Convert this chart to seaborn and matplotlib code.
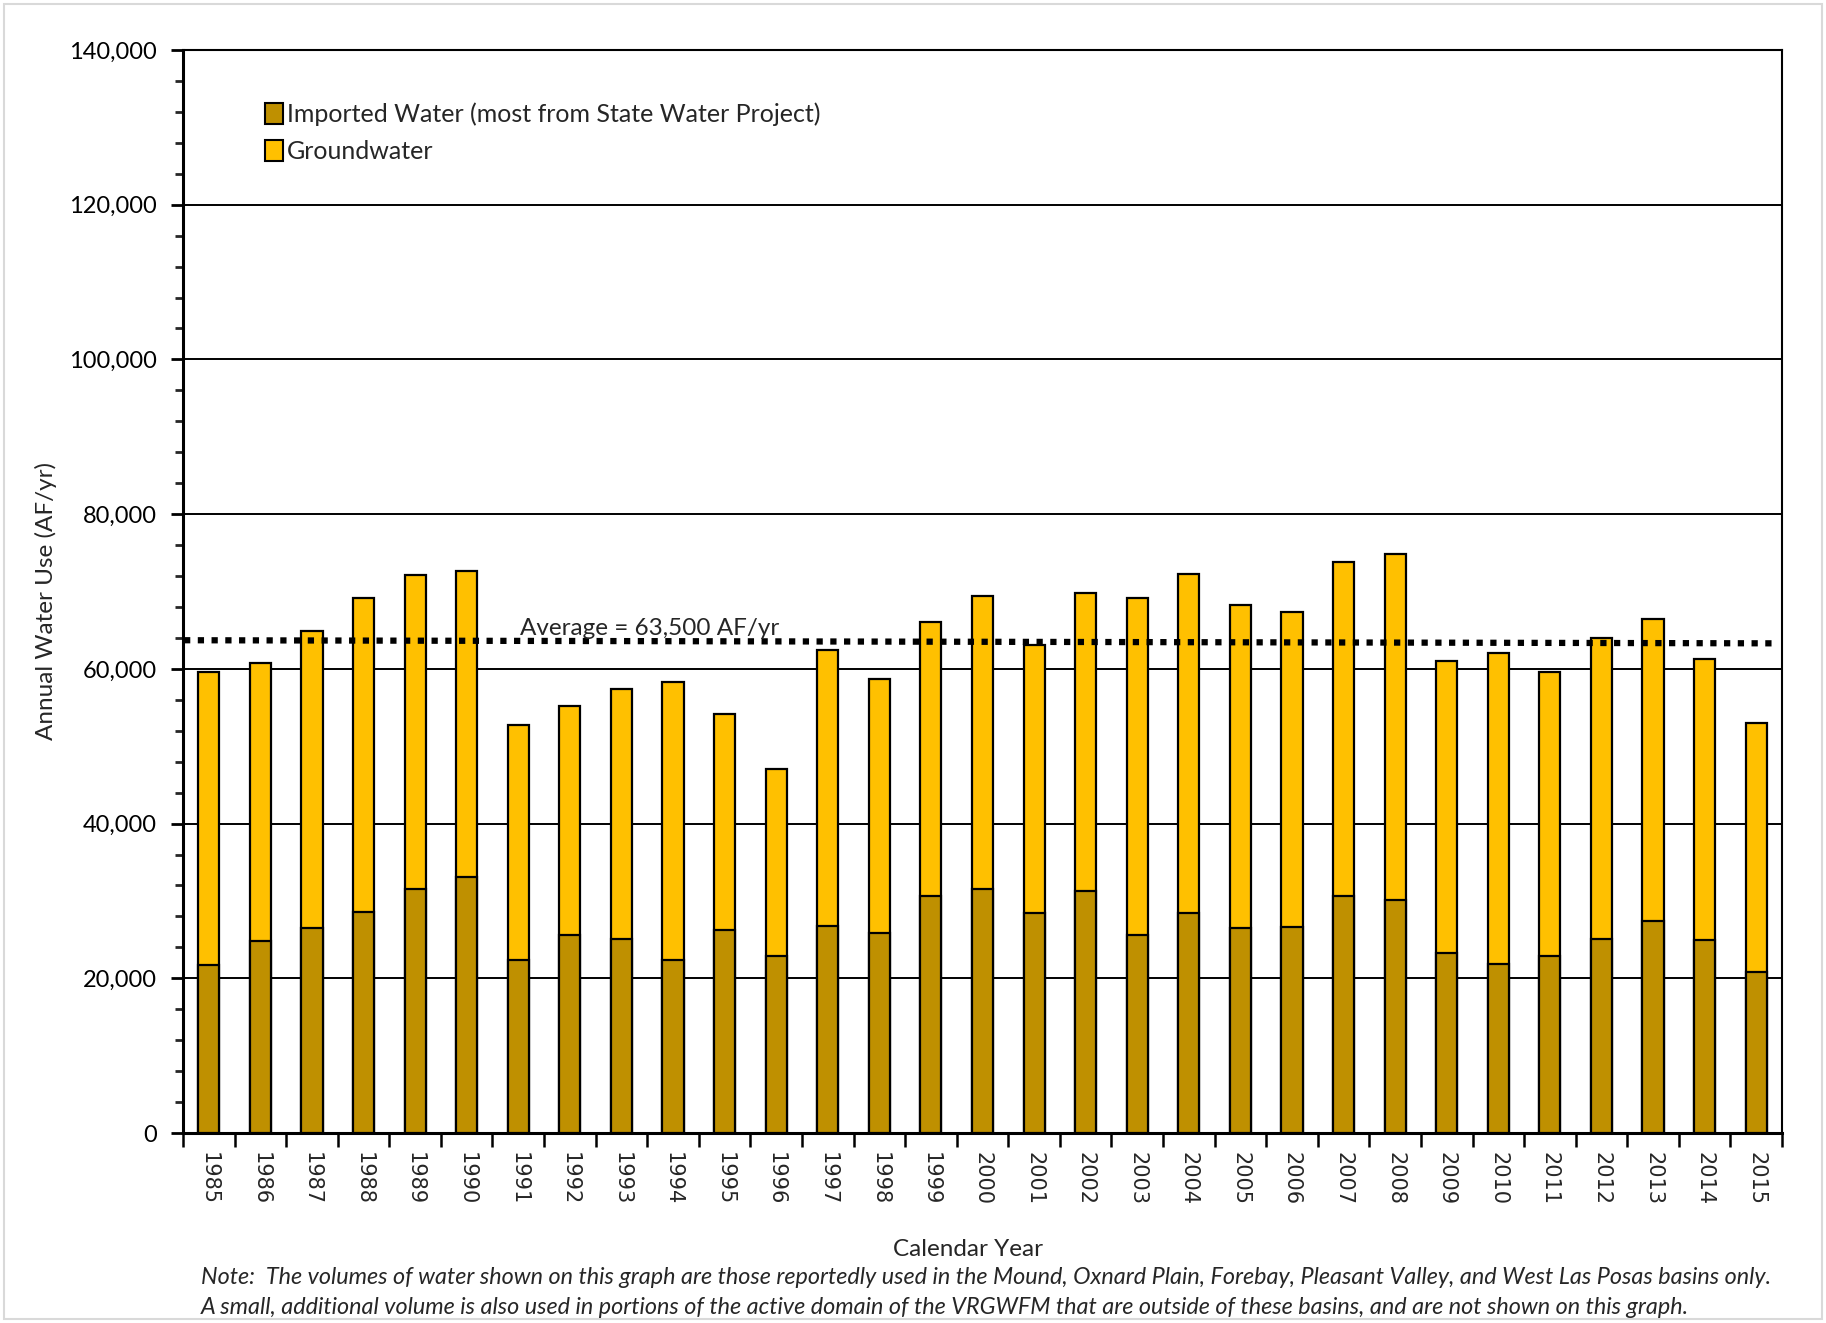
import numpy as np
import pandas as pd
import matplotlib
matplotlib.use("Agg")
import matplotlib.pyplot as plt
from matplotlib.ticker import MultipleLocator, FuncFormatter
from matplotlib.patches import Rectangle, Patch
import seaborn as sns

# Annual water use by source (AF/yr)
years = [str(y) for y in range(1985, 2016)]
total_use = [59600, 60800, 64900, 69200, 72100, 72700, 52700, 55200, 57400, 58300,
             54200, 47100, 62500, 58700, 66100, 69400, 63100, 69800, 69200, 72300,
             68300, 67300, 73800, 74800, 61000, 62000, 59600, 64000, 66400, 61300,
             53000]
imported = [21700, 24800, 26500, 28600, 31500, 33100, 22400, 25600, 25100, 22300,
            26300, 22900, 26800, 25900, 30700, 31500, 28500, 31300, 25600, 28500,
            26500, 26600, 30700, 30100, 23300, 21800, 22900, 25100, 27400, 25000,
            20800]
groundwater = [t - i for t, i in zip(total_use, imported)]
average_line = [63700, 63300]   # dotted average line, start and end of the period
average_label = "Average = 63,500 AF/yr"

df = pd.DataFrame({"year": years, "total": total_use, "imported": imported,
                   "groundwater": groundwater})

sns.set_theme(style="white")
plt.rcParams["font.family"] = ["Lato", "DejaVu Sans"]

W, H = 1826, 1323
fig = plt.figure(figsize=(W / 100, H / 100), dpi=100)
ax = fig.add_axes([183 / W, 1 - 1133 / H, (1782 - 183) / W, (1133 - 50) / H])

c_gw = "#FFC000"
c_imp = "#BF9000"

# groundwater stacked on imported water: full-height bar, then imported part over it
sns.barplot(data=df, x="year", y="total", color=c_gw, saturation=1, width=0.41,
            edgecolor="black", linewidth=1.6, ax=ax, zorder=3)
sns.barplot(data=df, x="year", y="imported", color=c_imp, saturation=1, width=0.41,
            edgecolor="black", linewidth=1.6, ax=ax, zorder=3)

# average line
ax.plot([-0.48, 30.3], average_line, color="black", linestyle=(0, (1, 1.2)),
        linewidth=4.5, zorder=4)
ax.text(6.03, 63850, average_label, fontsize=17.5, ha="left", va="bottom", zorder=5)

ax.set_xlim(-0.5, len(years) - 0.5)
ax.set_ylim(0, 140000)
ax.yaxis.set_major_locator(MultipleLocator(20000))
ax.yaxis.set_minor_locator(MultipleLocator(4000))
ax.yaxis.set_major_formatter(FuncFormatter(lambda v, p: f"{int(v):,}"))
ax.grid(axis="y", which="major", color="black", linewidth=1.4, zorder=0)
ax.grid(axis="x", visible=False)
ax.set_axisbelow(True)

for s in ax.spines.values():
    s.set_visible(True)
    s.set_color("black")
    s.set_linewidth(1.5)
ax.spines["left"].set_linewidth(2.2)
ax.spines["bottom"].set_linewidth(2.2)

ax.tick_params(axis="y", which="major", direction="out", length=9, width=2,
               labelsize=17, pad=10, left=True, colors="black")
ax.tick_params(axis="y", which="minor", direction="out", length=6, width=2, left=True)

# x ticks sit between the years; labels at the bar centers
ax.set_xticks(np.arange(-0.5, len(years), 1.0))
ax.set_xticklabels([""] * (len(years) + 1))
ax.set_xticks(np.arange(len(years)), minor=True)
ax.set_xticklabels(years, minor=True, rotation=270, fontsize=15,
                   family="DejaVu Sans")
ax.tick_params(axis="x", which="major", direction="out", length=10, width=1.8,
               bottom=True, colors="black")
ax.tick_params(axis="x", which="minor", length=0, pad=14)

ax.set_xlabel("Calendar Year", fontsize=17.5)
ax.set_ylabel("Annual Water Use (AF/yr)", fontsize=17.5)
ax.xaxis.set_label_coords(0.491, -0.098)
ax.yaxis.set_label_coords(-0.079, 0.491)

handles = [Patch(facecolor=c_imp, edgecolor="black", linewidth=1.5),
           Patch(facecolor=c_gw, edgecolor="black", linewidth=1.5)]
labels = ["Imported Water (most from State Water Project)", "Groundwater"]
ax.legend(handles, labels, loc="upper left", bbox_to_anchor=(0.037, 0.972),
          frameon=False, fontsize=18, handlelength=0.75, handleheight=0.9,
          handletextpad=0.15, labelspacing=0.55)

note_kw = dict(fontsize=16.8, style="italic", ha="left", va="center")
fig.text(201 / W, 1 - 1277 / H,
         "Note:  The volumes of water shown on this graph are those reportedly used in the Mound, "
         "Oxnard Plain, Forebay, Pleasant Valley, and West Las Posas basins only.", **note_kw)
fig.text(201 / W, 1 - 1307 / H,
         "A small, additional volume is also used in portions of the active domain of the VRGWFM "
         "that are outside of these basins, and are not shown on this graph.", **note_kw)

fig.patches.append(Rectangle((4 / W, 4 / H), 1 - 8 / W, 1 - 8 / H, transform=fig.transFigure,
                             fill=False, edgecolor="#d9d9d9", linewidth=1.5))

fig.savefig("out.png", dpi=100)
